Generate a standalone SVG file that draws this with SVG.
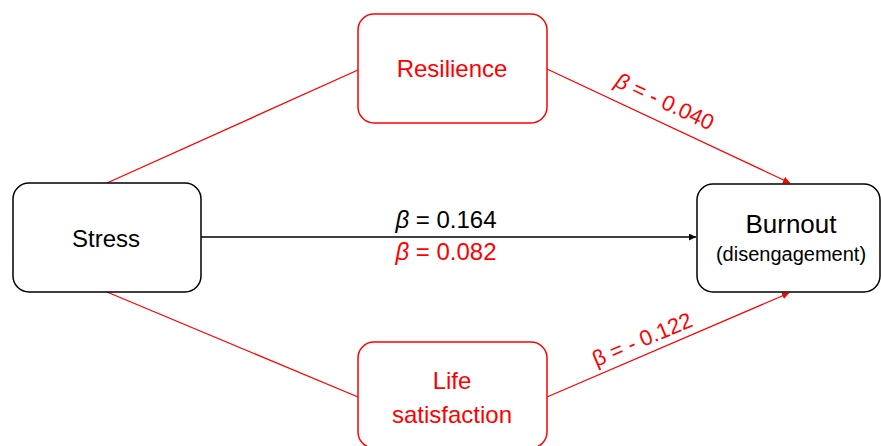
<svg xmlns="http://www.w3.org/2000/svg" width="881" height="446" viewBox="0 0 881 446">
<defs>
<style>
.box{fill:#fff;stroke-width:1.5}
.blk{stroke:#000}
.red{stroke:#FF0000}
text{font-family:"Liberation Sans",Arial,sans-serif}
.tb{fill:#000}
.tr{fill:#FF0000}
.ln{fill:none;stroke-width:1.3}
</style>
<marker id="ab" viewBox="0 0 10 10" refX="10" refY="5" markerWidth="7" markerHeight="7" markerUnits="userSpaceOnUse" orient="auto"><path d="M0,0 L10,5 L0,10 z" fill="#000"/></marker>
<marker id="ar" viewBox="0 0 10 10" refX="10" refY="5" markerWidth="7" markerHeight="7" markerUnits="userSpaceOnUse" orient="auto"><path d="M0,0 L10,5 L0,10 z" fill="#FF0000"/></marker>
</defs>
<rect width="881" height="446" fill="#fff"/>
<g id="connectors">
<line class="ln red" x1="107" y1="183" x2="358" y2="70"/>
<line class="ln red" x1="107" y1="292" x2="358" y2="397"/>
<line class="ln red" x1="547" y1="69" x2="790" y2="183" marker-end="url(#ar)"/>
<line class="ln red" x1="547" y1="397" x2="789" y2="293" marker-end="url(#ar)"/>
<line class="ln blk" x1="201" y1="237" x2="696" y2="237" marker-end="url(#ab)"/>
<text class="tb" x="446" y="228" font-size="24" text-anchor="middle"><tspan font-style="italic">β</tspan> = 0.164</text>
<text class="tr" x="446" y="260" font-size="24" text-anchor="middle"><tspan font-style="italic">β</tspan> = 0.082</text>
<text class="tr" font-size="22" text-anchor="middle" transform="translate(665,101) rotate(25.1)" y="8"><tspan font-style="italic">β</tspan> = - 0.040</text>
<text class="tr" font-size="22" text-anchor="middle" transform="translate(642,339) rotate(-23)" y="8">β = - 0.122</text>
</g>
<g id="stress">
<rect class="box blk" x="13" y="183" width="188" height="109" rx="16"/>
<text class="tb" x="106" y="247" font-size="24" text-anchor="middle">Stress</text>
</g>
<g id="burnout">
<rect class="box blk" x="697" y="184" width="183" height="108" rx="16"/>
<text class="tb" x="791" y="233" font-size="26" text-anchor="middle">Burnout</text>
<text class="tb" x="791" y="261" font-size="20" text-anchor="middle">(disengagement)</text>
</g>
<g id="resilience">
<rect class="box red" x="358" y="14" width="189" height="109" rx="16"/>
<text class="tr" x="452" y="77" font-size="24" text-anchor="middle">Resilience</text>
</g>
<g id="life">
<rect class="box red" x="358" y="342" width="189" height="106" rx="16"/>
<text class="tr" x="452" y="389" font-size="24" text-anchor="middle">Life</text>
<text class="tr" x="452" y="423" font-size="24" text-anchor="middle">satisfaction</text>
</g>
</svg>
